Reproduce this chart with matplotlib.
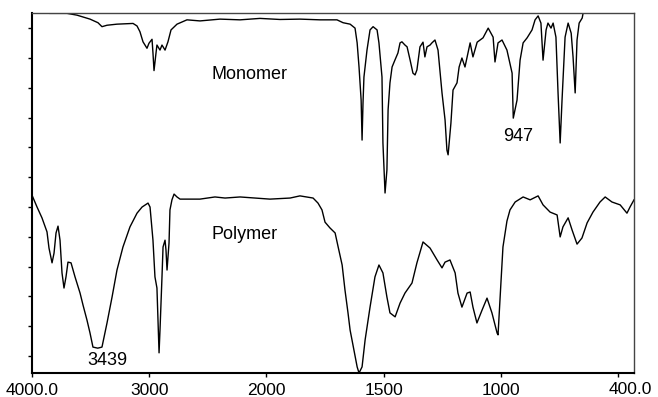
import numpy as np
import matplotlib
matplotlib.use('Agg')
from matplotlib import pyplot as plt
from matplotlib.ticker import NullLocator

plt.rcParams['font.family'] = ['Liberation Sans', 'DejaVu Sans']

# IR spectra, wavenumber (cm-1) vs transmittance (arbitrary %, offset)
MONO_WN = [3846, 3701, 3616, 3505, 3437, 3403, 3360, 3275, 3138, 3104, 3079, 3053,
           3019, 3002, 2976, 2968, 2959, 2942, 2934, 2908, 2891, 2865, 2840, 2814,
           2763, 2678, 2567, 2396, 2225, 2055, 1942, 1857, 1771, 1699, 1673, 1643,
           1622, 1613, 1605, 1596, 1592, 1588, 1584, 1571, 1558, 1545, 1528, 1520,
           1507, 1503, 1494, 1486, 1481, 1473, 1464, 1452, 1439, 1430, 1422, 1409,
           1400, 1387, 1375, 1366, 1358, 1345, 1332, 1324, 1315, 1302, 1294, 1281,
           1268, 1251, 1238, 1230, 1225, 1213, 1204, 1187, 1178, 1166, 1153, 1131,
           1119, 1101, 1076, 1054, 1033, 1025, 1012, 995, 974, 952, 947, 931,
           918, 905, 888, 867, 854, 841, 829, 820, 807, 799, 786, 777,
           765, 756, 747, 739, 726, 713, 700, 692, 683, 675, 666, 653, 649]
MONO_T = [99.9, 99.9, 99.4, 98.3, 97.3, 96.2, 96.6, 96.9, 97.1, 96.4, 94.8, 92.0,
          90.2, 91.6, 92.7, 88.9, 84.0, 88.9, 91.1, 89.7, 91.1, 89.7, 92.0, 95.3,
          96.9, 98.1, 97.8, 98.3, 98.1, 98.5, 98.2, 98.3, 98.1, 98.1, 97.3, 96.9,
          95.8, 91.7, 85.0, 75.8, 64.7, 75.0, 82.2, 89.7, 95.3, 96.2, 95.3, 91.7,
          82.2, 63.9, 50.0, 56.4, 73.1, 80.6, 85.0, 86.9, 88.9, 91.7, 92.0, 91.1,
          90.6, 86.9, 83.3, 82.8, 84.2, 90.6, 91.9, 87.8, 90.6, 91.1, 91.7, 92.5,
          89.7, 77.8, 70.3, 61.9, 60.6, 69.4, 78.6, 80.6, 85.0, 87.5, 85.0, 91.7,
          87.8, 91.9, 93.1, 95.8, 93.3, 86.4, 91.7, 92.5, 89.7, 83.3, 70.8, 75.8,
          86.9, 91.7, 93.1, 95.3, 98.1, 99.2, 97.2, 86.9, 95.3, 97.2, 95.8, 97.2,
          93.3, 77.8, 63.9, 75.8, 93.3, 97.2, 94.4, 87.8, 77.8, 92.5, 97.2, 98.6, 100.0]

POLY_WN = [4000, 3957, 3915, 3872, 3855, 3829, 3812, 3795, 3778, 3761, 3744, 3727,
           3710, 3693, 3667, 3633, 3590, 3565, 3531, 3505, 3480, 3439, 3403, 3360,
           3317, 3275, 3224, 3164, 3104, 3061, 3010, 2993, 2968, 2951, 2934, 2916,
           2908, 2891, 2882, 2865, 2857, 2848, 2831, 2823, 2806, 2788, 2763, 2737,
           2567, 2439, 2353, 2225, 2097, 1985, 1899, 1857, 1801, 1780, 1763, 1750,
           1729, 1707, 1694, 1677, 1665, 1652, 1643, 1635, 1613, 1605, 1592, 1579,
           1558, 1537, 1520, 1503, 1486, 1473, 1451, 1430, 1409, 1379, 1358, 1332,
           1302, 1272, 1251, 1238, 1217, 1195, 1183, 1166, 1144, 1131, 1119, 1102,
           1080, 1059, 1038, 1016, 1012, 999, 991, 974, 961, 939, 905, 875,
           841, 820, 790, 760, 747, 735, 713, 696, 675, 654, 632, 607,
           577, 555, 526, 491, 462, 449, 432]
POLY_T = [49.4, 46.1, 43.1, 39.2, 34.7, 30.6, 33.3, 38.9, 40.8, 36.9, 27.8, 23.6,
          26.7, 30.8, 30.6, 26.7, 22.2, 18.9, 14.7, 11.1, 7.2, 6.9, 7.2, 13.9,
          21.1, 28.6, 35.0, 40.6, 44.4, 46.1, 47.2, 46.1, 36.9, 26.7, 23.6, 5.6,
          11.9, 26.7, 35.0, 36.9, 34.2, 28.6, 36.1, 45.3, 48.1, 49.7, 48.9, 48.3,
          48.3, 48.9, 48.6, 48.9, 48.6, 48.3, 48.6, 49.2, 48.6, 47.2, 45.3, 41.9,
          40.3, 38.9, 35.0, 30.0, 23.1, 16.7, 11.9, 9.2, 1.7, 0.0, 1.7, 9.2,
          18.3, 26.7, 30.0, 27.8, 21.1, 16.7, 15.6, 19.4, 22.2, 25.0, 30.6, 36.4,
          34.7, 31.4, 29.2, 30.8, 31.4, 27.8, 22.2, 18.3, 22.2, 22.5, 18.3, 13.9,
          17.5, 20.8, 16.7, 11.1, 10.6, 25.8, 35.0, 42.2, 45.3, 47.5, 48.9, 48.1,
          49.2, 46.7, 44.7, 43.9, 37.8, 40.6, 43.1, 39.7, 35.8, 37.5, 41.7, 44.7,
          47.5, 48.9, 47.5, 46.7, 44.4, 46.1, 48.1]

XTICKS = [4000, 3000, 2000, 1500, 1000, 500]
XTICKLABELS = ['4000.0', '3000', '2000', '1500', '1000', '']
YTICKS = np.linspace(4.7, 95.8, 12)


def fwd(w):
    """
    wavenumber axis with 2x expansion below 2000 cm-1
    """
    w = np.asarray(w, dtype=float)
    return np.where(w >= 2000, w, 2 * w - 2000)


def inv(u):
    u = np.asarray(u, dtype=float)
    return np.where(u >= 2000, u, (u + 2000) / 2)


fig = plt.figure(figsize=(6.58, 3.97), dpi=100)
ax = fig.add_axes([32 / 658, 1 - 373 / 397, 602 / 658, 360 / 397])
ax.set_xscale('function', functions=(fwd, inv))

ax.plot(MONO_WN, MONO_T, color='black', lw=1.0)
ax.plot(POLY_WN, POLY_T, color='black', lw=1.0)

ax.text(2148, 82.8, 'Monomer', ha='center', va='center', fontsize=13)
ax.text(2183, 38.6, 'Polymer', ha='center', va='center', fontsize=13)
ax.text(3360, 3.6, '3439', ha='center', va='center', fontsize=13)
ax.text(927, 65.6, '947', ha='center', va='center', fontsize=13)

ax.set_xlim(4000, 432)
ax.set_ylim(0, 100)
ax.set_xticks(XTICKS)
ax.set_xticklabels(XTICKLABELS, fontsize=12.5)
ax.xaxis.set_minor_locator(NullLocator())
ax.set_yticks(YTICKS)
ax.set_yticklabels([])
ax.tick_params(axis='both', direction='out', length=3, width=1, color='black', pad=4)
ax.text(449, -0.025, '400.0', transform=ax.get_xaxis_transform(),
        ha='center', va='top', fontsize=12.5)

for side in ('left', 'bottom'):
    ax.spines[side].set_linewidth(1.5)
for side in ('top', 'right'):
    ax.spines[side].set_linewidth(1.0)
    ax.spines[side].set_color('#444444')

plt.savefig('out.png', dpi=100)
plt.close()
